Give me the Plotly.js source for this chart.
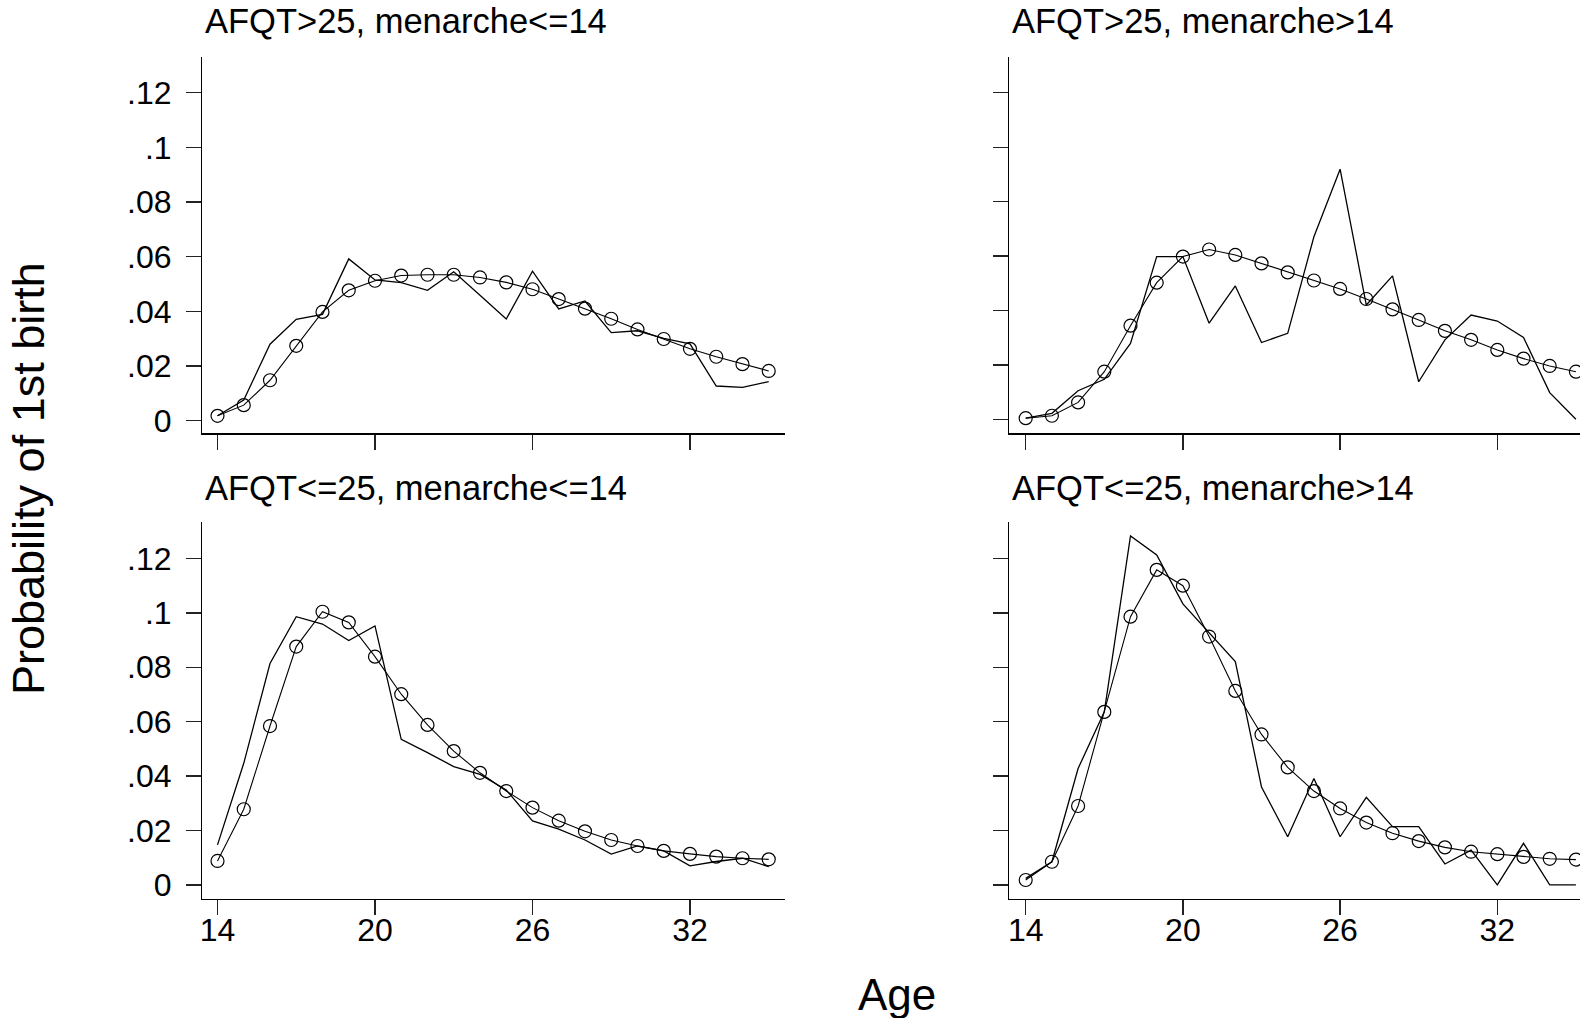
<!DOCTYPE html>
<html>
<head>
<meta charset="utf-8">
<script src="https://cdn.plot.ly/plotly-3.0.1.min.js"></script>
<style>
html, body { margin: 0; padding: 0; background: #fff; }
#chart { width: 1580px; height: 1018px; }
</style>
</head>
<body>
<div id="chart"></div>
<script>
// Ages (x values)
const ages = [14, 15, 16, 17, 18, 19, 20, 21, 22, 23, 24, 25, 26, 27, 28, 29, 30, 31, 32, 33, 34, 35];

// Panel titles
const panelTitles = ["AFQT>25, menarche<=14", "AFQT>25, menarche>14", "AFQT<=25, menarche<=14", "AFQT<=25, menarche>14"];

// Tick labels
const xTickVals = [14, 20, 26, 32];
const xTickText = ["14", "20", "26", "32"];
const yTickVals = [0, 0.02, 0.04, 0.06, 0.08, 0.10, 0.12];
const yTickText = ["0", ".02", ".04", ".06", ".08", ".1", ".12"];

// AFQT>25, menarche<=14
const rawHiEarly = [0.0018, 0.0076, 0.0280, 0.0371, 0.0389, 0.0592, 0.0515, 0.0505, 0.0477, 0.0545, 0.0459, 0.0372, 0.0547, 0.0409, 0.0438, 0.0322, 0.0329, 0.0301, 0.0281, 0.0127, 0.0122, 0.0143];
const fitHiEarly = [0.0018, 0.0057, 0.0148, 0.0274, 0.0398, 0.0477, 0.0512, 0.0531, 0.0534, 0.0534, 0.0524, 0.0506, 0.0481, 0.0445, 0.0410, 0.0373, 0.0334, 0.0299, 0.0263, 0.0234, 0.0207, 0.0182];

// AFQT>25, menarche>14
const rawHiLate = [0.0004, 0.0022, 0.0105, 0.0147, 0.0279, 0.0598, 0.0598, 0.0353, 0.0490, 0.0282, 0.0316, 0.0671, 0.0919, 0.0420, 0.0527, 0.0138, 0.0292, 0.0383, 0.0361, 0.0301, 0.0098, 0.0000];
const fitHiLate = [0.0004, 0.0013, 0.0062, 0.0175, 0.0344, 0.0502, 0.0598, 0.0624, 0.0604, 0.0573, 0.0540, 0.0510, 0.0479, 0.0442, 0.0404, 0.0365, 0.0325, 0.0292, 0.0255, 0.0223, 0.0196, 0.0175];

// AFQT<=25, menarche<=14
const rawLoEarly = [0.0147, 0.0447, 0.0814, 0.0986, 0.0959, 0.0898, 0.0952, 0.0535, 0.0486, 0.0435, 0.0406, 0.0349, 0.0235, 0.0205, 0.0165, 0.0113, 0.0143, 0.0125, 0.0070, 0.0086, 0.0098, 0.0067];
const fitLoEarly = [0.0088, 0.0278, 0.0584, 0.0876, 0.1004, 0.0965, 0.0839, 0.0701, 0.0588, 0.0492, 0.0412, 0.0345, 0.0284, 0.0236, 0.0197, 0.0165, 0.0143, 0.0125, 0.0114, 0.0104, 0.0098, 0.0094];

// AFQT<=25, menarche>14
const rawLoLate = [0.0024, 0.0085, 0.0428, 0.0636, 0.1283, 0.1213, 0.1033, 0.0929, 0.0821, 0.0360, 0.0177, 0.0391, 0.0177, 0.0322, 0.0214, 0.0214, 0.0077, 0.0128, 0.0000, 0.0153, 0.0000, 0.0000];
const fitLoLate = [0.0018, 0.0085, 0.0290, 0.0636, 0.0986, 0.1158, 0.1100, 0.0913, 0.0713, 0.0553, 0.0432, 0.0345, 0.0281, 0.0229, 0.0190, 0.0161, 0.0138, 0.0122, 0.0113, 0.0103, 0.0096, 0.0093];

const FONT = "Liberation Sans, Arial, Helvetica, sans-serif";
const W = 1580, H = 1018;

const panels = [
  {raw: rawHiEarly, fit: fitHiEarly, xa: "x",  ya: "y"},
  {raw: rawHiLate,  fit: fitHiLate,  xa: "x2", ya: "y2"},
  {raw: rawLoEarly, fit: fitLoEarly, xa: "x3", ya: "y3"},
  {raw: rawLoLate,  fit: fitLoLate,  xa: "x4", ya: "y4"}
];

const traces = [];
panels.forEach(p => {
  traces.push({
    x: ages, y: p.raw, xaxis: p.xa, yaxis: p.ya,
    type: "scatter", mode: "lines",
    line: {color: "#000", width: 1.3},
    hoverinfo: "skip", showlegend: false
  });
  traces.push({
    x: ages, y: p.fit, xaxis: p.xa, yaxis: p.ya,
    type: "scatter", mode: "lines+markers",
    line: {color: "#000", width: 1.1},
    marker: {symbol: "circle-open", size: 13, color: "#000", line: {width: 1.2, color: "#000"}},
    hoverinfo: "skip", showlegend: false
  });
});

// pixel helpers for domains
const dx = (a, b) => [a / W, b / W];
const dy = (top, bottom) => [1 - bottom / H, 1 - top / H];

function xAxis(domain, range, anchor, labels) {
  return {
    domain: domain, range: range, anchor: anchor,
    showline: true, linecolor: "#000", linewidth: 1.3, mirror: false,
    ticks: "outside", ticklen: 15, tickwidth: 1.3, tickcolor: "#222",
    tickmode: "array", tickvals: xTickVals, ticktext: xTickText,
    showticklabels: labels, tickfont: {family: FONT, size: 32, color: "#000"},
    ticklabelstandoff: -12,
    showgrid: false, zeroline: false, fixedrange: true
  };
}
function yAxis(domain, range, anchor, labels) {
  return {
    domain: domain, range: range, anchor: anchor,
    showline: true, linecolor: "#000", linewidth: 1.3, mirror: false,
    ticks: "outside", ticklen: 15, tickwidth: 1.3, tickcolor: "#222",
    tickmode: "array", tickvals: yTickVals, ticktext: yTickText,
    showticklabels: labels, tickfont: {family: FONT, size: 32, color: "#000"},
    ticklabelstandoff: 8,
    showgrid: false, zeroline: false, fixedrange: true
  };
}

const xL = dx(202.3, 785), xR = dx(1009.3, 1580);
const yT = dy(57.4, 433.3), yB = dy(522, 898.5);

const layout = {
  width: W, height: H,
  margin: {l: 0, r: 0, t: 0, b: 0, pad: 0},
  paper_bgcolor: "#fff", plot_bgcolor: "#fff",
  font: {family: FONT, color: "#000"},
  showlegend: false,
  xaxis:  xAxis(xL, [13.421, 35.62], "y",  false),
  xaxis2: xAxis(xR, [13.374, 35.156], "y2", false),
  xaxis3: xAxis(xL, [13.421, 35.62], "y3", true),
  xaxis4: xAxis(xR, [13.374, 35.156], "y4", true),
  yaxis:  yAxis(yT, [-0.0046, 0.1329], "x",  true),
  yaxis2: yAxis(yT, [-0.00515, 0.1330], "x2", false),
  yaxis3: yAxis(yB, [-0.0050, 0.1334], "x3", true),
  yaxis4: yAxis(yB, [-0.0050, 0.1334], "x4", false),
  annotations: [
    {text: panelTitles[0], xref: "paper", yref: "paper", x: 203 / W, y: 1 - 21 / H, xanchor: "left", yanchor: "middle", showarrow: false, font: {family: FONT, size: 34.5, color: "#000"}},
    {text: panelTitles[1], xref: "paper", yref: "paper", x: 1009.5 / W, y: 1 - 21 / H, xanchor: "left", yanchor: "middle", showarrow: false, font: {family: FONT, size: 34.5, color: "#000"}},
    {text: panelTitles[2], xref: "paper", yref: "paper", x: 203 / W, y: 1 - 488 / H, xanchor: "left", yanchor: "middle", showarrow: false, font: {family: FONT, size: 34.5, color: "#000"}},
    {text: panelTitles[3], xref: "paper", yref: "paper", x: 1009.5 / W, y: 1 - 488 / H, xanchor: "left", yanchor: "middle", showarrow: false, font: {family: FONT, size: 34.5, color: "#000"}},
    {text: "Age", xref: "paper", yref: "paper", x: 897 / W, y: 1 - 994 / H, xanchor: "center", yanchor: "middle", showarrow: false, font: {family: FONT, size: 44, color: "#000"}},
    {text: "Probability of 1st birth", xref: "paper", yref: "paper", x: 28 / W, y: 1 - 479 / H, xanchor: "center", yanchor: "middle", textangle: -90, showarrow: false, font: {family: FONT, size: 45, color: "#000"}}
  ]
};

Plotly.newPlot("chart", traces, layout, {staticPlot: true, displayModeBar: false});
</script>
</body>
</html>
